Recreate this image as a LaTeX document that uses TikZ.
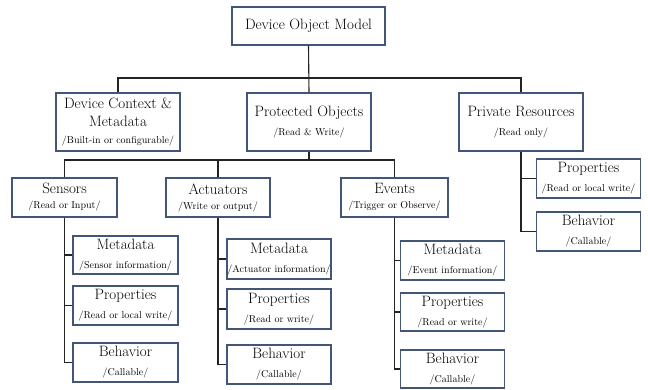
\documentclass[tikz,border=0pt]{standalone}
\definecolor{boxc}{RGB}{68,86,120}
\definecolor{linec}{RGB}{35,35,35}
\newcommand{\ttl}[1]{{\rmfamily\fontsize{15}{18}\selectfont #1}}
\newcommand{\sbt}[1]{{\rmfamily\fontsize{10}{12}\selectfont #1}}
\begin{document}
\begin{tikzpicture}[x=1pt,y=-1pt,
  bx/.style={draw=boxc, line width=1.1pt, fill=white, inner sep=0pt, align=center,
    font=\rmfamily\fontsize{15}{18}\selectfont},
  conn/.style={draw=linec, line width=1.1pt}]
\useasboundingbox (0,0) rectangle (648,389);
% level 1
\node[bx, minimum width=153pt, minimum height=38pt] (top) at (308.5,26) {\ttl{Device Object Model}};
% level 2
\node[bx, minimum width=124pt, minimum height=58pt] (dcm) at (118,122) {\ttl{Device Context \&}\\\ttl{Metadata}\\[-1pt]\sbt{/Built-in or configurable/}};
\node[bx, minimum width=124pt, minimum height=58pt] (prot) at (309,122) {\ttl{Protected Objects}\\[1pt]\sbt{/Read \& Write/}};
\node[bx, minimum width=124pt, minimum height=58pt] (priv) at (521,122) {\ttl{Private Resources}\\[1pt]\sbt{/Read only/}};
% level 3
\node[bx, minimum width=105pt, minimum height=39pt] (sens) at (64.5,197.5) {\ttl{Sensors}\\[-3pt]\sbt{/Read or Input/}};
\node[bx, minimum width=104pt, minimum height=39pt] (act) at (218,197.5) {\ttl{Actuators}\\[-3pt]\sbt{/Write or output/}};
\node[bx, minimum width=107pt, minimum height=39pt] (evt) at (394.5,197.5) {\ttl{Events}\\[-3pt]\sbt{/Trigger or Observe/}};
% sensors children
\node[bx, minimum width=105pt, minimum height=38pt] (smd) at (125.5,255) {\ttl{Metadata}\\[1pt]\sbt{/Sensor information/}};
\node[bx, minimum width=105pt, minimum height=39pt] (spr) at (125.5,305.5) {\ttl{Properties}\\[1pt]\sbt{/Read or local write/}};
\node[bx, minimum width=105pt, minimum height=39pt] (sbh) at (125.5,362.5) {\ttl{Behavior}\\[1pt]\sbt{/Callable/}};
% actuator children
\node[bx, minimum width=104pt, minimum height=40pt] (amd) at (279,259) {\ttl{Metadata}\\[1pt]\sbt{/Actuator information/}};
\node[bx, minimum width=104pt, minimum height=40pt] (apr) at (279,309) {\ttl{Properties}\\[1pt]\sbt{/Read or write/}};
\node[bx, minimum width=104pt, minimum height=39pt] (abh) at (279,364.5) {\ttl{Behavior}\\[1pt]\sbt{/Callable/}};
% event children
\node[bx, minimum width=104pt, minimum height=39pt] (emd) at (452.5,260.5) {\ttl{Metadata}\\[1pt]\sbt{/Event information/}};
\node[bx, minimum width=104pt, minimum height=38pt] (epr) at (452.5,312) {\ttl{Properties}\\[1pt]\sbt{/Read or write/}};
\node[bx, minimum width=104pt, minimum height=38pt] (ebh) at (452.5,369) {\ttl{Behavior}\\[1pt]\sbt{/Callable/}};
% private children
\node[bx, minimum width=104pt, minimum height=39pt] (ppr) at (588.5,178.5) {\ttl{Properties}\\[1pt]\sbt{/Read or local write/}};
\node[bx, minimum width=104pt, minimum height=39pt] (pbh) at (588.5,231.5) {\ttl{Behavior}\\[1pt]\sbt{/Callable/}};
% junctions
\coordinate (j1) at (309,78);
\coordinate (j2) at (309,160);
% connectors level 1-2
\draw[conn] (top.south) -- (prot.north);
\draw[conn] (dcm.north) -- (dcm.north |- j1) -- (priv.north |- j1) -- (priv.north);
% level 2-3
\draw[conn] (prot.south) -- (j2);
\draw[conn] (sens.north) -- (sens.north |- j2) -- (evt.north |- j2) -- (evt.north);
\draw[conn] (act.north) -- (act.north |- j2);
% sensors
\draw[conn] (sens.south) |- (sbh.west);
\draw[conn] (sens.south |- smd.west) -- (smd.west);
\draw[conn] (sens.south |- spr.west) -- (spr.west);
% actuators
\draw[conn] (act.south) |- (abh.west);
\draw[conn] (act.south |- amd.west) -- (amd.west);
\draw[conn] (act.south |- apr.west) -- (apr.west);
% events
\draw[conn] (evt.south) |- (ebh.west);
\draw[conn] (evt.south |- emd.west) -- (emd.west);
\draw[conn] (evt.south |- epr.west) -- (epr.west);
% private
\draw[conn] (priv.south) |- (pbh.west);
\draw[conn] (priv.south |- ppr.west) -- (ppr.west);
\end{tikzpicture}
\end{document}
